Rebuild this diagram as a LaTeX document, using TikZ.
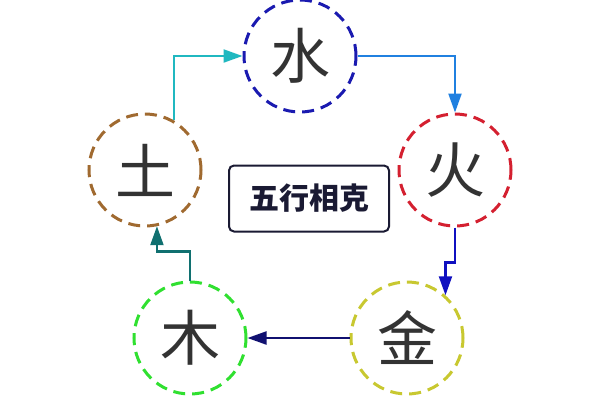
\documentclass[tikz,border=0pt]{standalone}
\usepackage{fontspec}
\newfontfamily\cjk{Noto Sans CJK SC}
\usetikzlibrary{arrows.meta}
\definecolor{cshui}{HTML}{1A1AB0}
\definecolor{chuo}{HTML}{D42030}
\definecolor{ctu}{HTML}{A06A30}
\definecolor{cmu}{HTML}{30E030}
\definecolor{cjin}{HTML}{C8C830}
\definecolor{ctxt}{HTML}{333333}
\definecolor{ctitle}{HTML}{1A1A33}
\definecolor{aone}{HTML}{20B8C0}
\definecolor{atwo}{HTML}{2080E0}
\definecolor{athree}{HTML}{1010C0}
\definecolor{afour}{HTML}{101070}
\definecolor{afive}{HTML}{107070}
\tikzset{
  elem/.style={circle, minimum size=112pt, inner sep=0pt, line width=3pt,
    dash pattern=on 12pt off 7pt, font=\cjk\fontsize{60}{60}\selectfont, text=ctxt},
  conn/.style={line width=2.2pt, -{Triangle[length=19pt,width=13pt]}},
  titlebox/.style={draw=ctitle, line width=2pt, rounded corners=5pt,
    minimum width=160pt, minimum height=66pt, inner sep=0pt,
    font=\cjk\bfseries\fontsize{30}{30}\selectfont, text=ctitle}
}
\begin{document}
\begin{tikzpicture}[x=1pt,y=-1pt]
\useasboundingbox (0,0) rectangle (600,400);
\fill[white] (0,0) rectangle (600,400);
\node[elem, draw=cshui] (shui) at (300,56) {水};
\node[elem, draw=chuo] (huo) at (455,170) {火};
\node[elem, draw=ctu] (tu) at (145,170) {土};
\node[elem, draw=cmu] (mu) at (190,338) {木};
\node[elem, draw=cjin] (jin) at (407,338) {金};
\node[titlebox] (title) at (309,198.5) {五行相克};
\draw[conn, aone] (tu.60) |- (shui.west);
\draw[conn, atwo] (shui.east) -| (huo.north);
\draw[conn, athree] (huo.south) -- ++(0,35) -| (jin.48);
\draw[conn, afour] (jin.west) -- (mu.east);
\draw[conn, afive] (mu.north) -- ++(0,-29) -| (tu.-78);
\end{tikzpicture}
\end{document}
